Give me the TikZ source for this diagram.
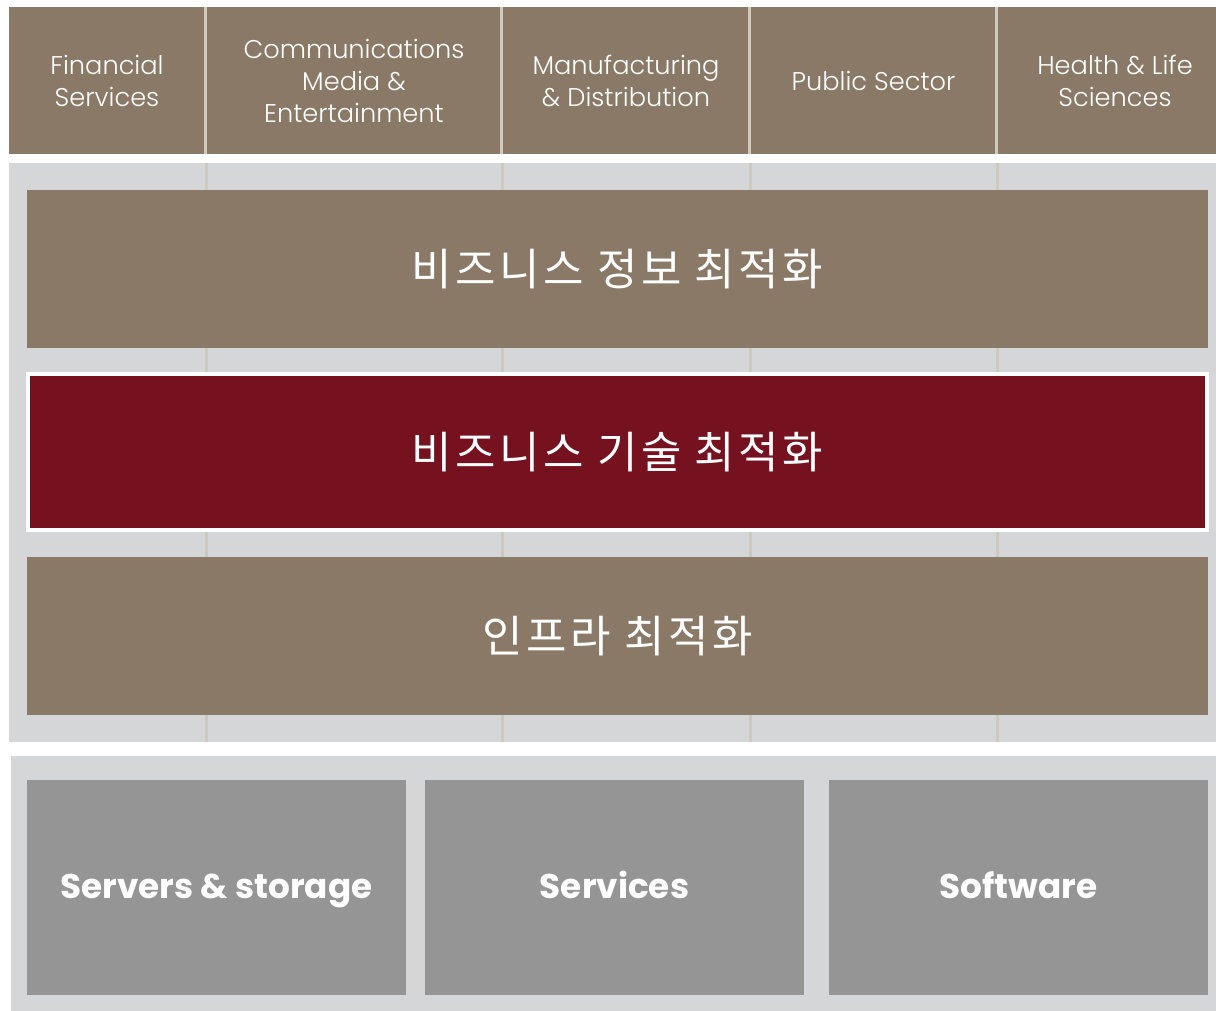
\documentclass[tikz,border=0pt]{standalone}
\usepackage{fontspec}
\setmainfont{Poppins}
\newfontfamily\lightfont{Poppins Light}
\newfontfamily\krfont[LetterSpace=8]{Noto Sans CJK KR}
\usepackage{tikz}

\definecolor{taupe}{RGB}{138,121,103}
\definecolor{panelgrey}{RGB}{213,214,216}
\definecolor{divider}{RGB}{205,201,188}
\definecolor{wine}{RGB}{118,17,31}
\definecolor{boxgrey}{RGB}{149,149,149}

\begin{document}
\begin{tikzpicture}[x=0.02cm, y=-0.02cm,
	cell/.style={fill=taupe, text=white, inner sep=0pt, align=center, minimum height=2.94cm, font=\lightfont\fontsize{14.6}{18.2}\selectfont},
	band/.style={fill=taupe, text=white, inner sep=0pt, minimum width=23.62cm, minimum height=3.16cm, font=\krfont\fontsize{25}{28}\selectfont},
	panel/.style={fill=panelgrey, inner sep=0pt},
	offer/.style={fill=boxgrey, text=white, inner sep=0pt, minimum width=7.58cm, minimum height=4.3cm, text height=16pt, text depth=4pt, font=\bfseries\fontsize{19.5}{23}\selectfont}]
	\useasboundingbox (0,0) rectangle (1216,1010);
	\clip (0,0) rectangle (1216,1010);
	% industries
	\draw (107,80.5) node(fin) [cell, minimum width=3.92cm] {Financial\\Services};
	\draw (354,80.5) node(comm) [cell, minimum width=5.88cm] {Communications\\Media \&\\Entertainment};
	\draw (626,80.5) node(manu) [cell, minimum width=4.92cm] {Manufacturing\\\& Distribution};
	\draw (873.5,80.5) node(pub) [cell, minimum width=4.9cm] {Public Sector};
	\draw (1115,80.5) node(health) [cell, minimum width=4.68cm] {Health \& Life\\Sciences};
	\path[draw, divider, line width=0.06cm] (fin.north east) -- (fin.south east);
	\path[draw, divider, line width=0.06cm] (comm.north east) -- (comm.south east);
	\path[draw, divider, line width=0.06cm] (manu.north east) -- (manu.south east);
	\path[draw, divider, line width=0.06cm] (pub.north east) -- (pub.south east);
	% optimisation layers
	\draw (617.5,452.5) node(upper) [panel, minimum width=24.34cm, minimum height=11.58cm] {};
	\path[draw, divider, line width=0.06cm] (206,163) -- (206,742);
	\path[draw, divider, line width=0.06cm] (502,163) -- (502,742);
	\path[draw, divider, line width=0.06cm] (750,163) -- (750,742);
	\path[draw, divider, line width=0.06cm] (997.5,163) -- (997.5,742);
	\draw (617.5,269) node(info) [band] {비즈니스 정보 최적화};
	\draw (617.5,452) node(tech) [band, fill=wine, draw=white, line width=0.07cm, minimum width=23.59cm, minimum height=3.13cm] {비즈니스 기술 최적화};
	\draw (617.5,636) node(infra) [band] {인프라 최적화};
	% offerings
	\draw (617.5,888) node(lower) [panel, minimum width=24.26cm, minimum height=5.28cm] {};
	\draw (216.5,887.5) node(servers) [offer] {Servers \& storage};
	\draw (614.5,887.5) node(services) [offer] {Services};
	\draw (1018.5,887.5) node(software) [offer] {Software};
\end{tikzpicture}
\end{document}
